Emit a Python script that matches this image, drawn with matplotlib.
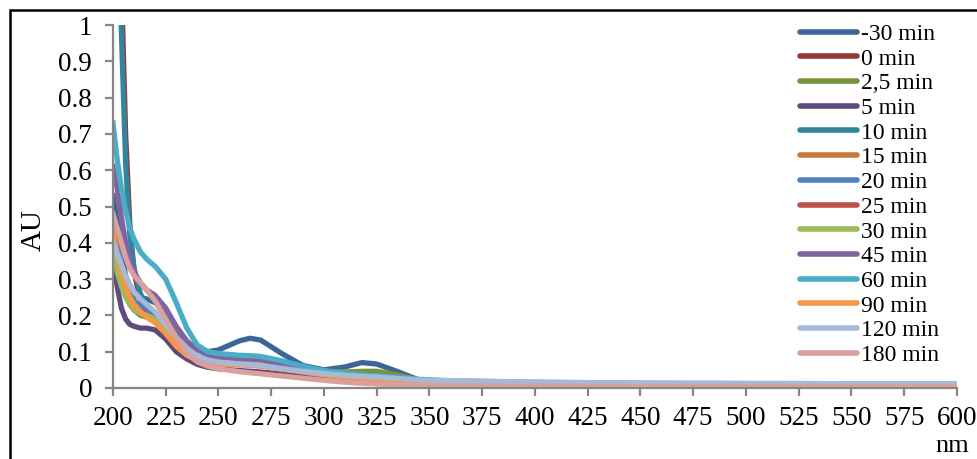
import matplotlib
matplotlib.use('Agg')
import matplotlib.pyplot as plt
from matplotlib.patches import Rectangle

plt.rcParams['font.family'] = ['Liberation Serif', 'DejaVu Serif']

# wavelengths (nm) where the curves were read
wl = [200, 202, 204, 206, 208, 210, 213, 216, 220, 225, 230, 235, 240, 245, 250,
      260, 265, 270, 280, 290, 300, 310, 318, 325, 335, 345, 360, 380, 400, 450,
      500, 550, 600]

labels = ['-30 min', '0 min', '2,5 min', '5 min', '10 min', '15 min', '20 min',
          '25 min', '30 min', '45 min', '60 min', '90 min', '120 min', '180 min']
colors = ['#3C6697', '#953735', '#77933C', '#604A7B', '#31859C', '#CB7A35', '#4F81BD',
          '#C0504D', '#9BBB59', '#8064A2', '#4BACC6', '#F79646', '#A7B9D9', '#D9A09D']

au_m30 = [.53, .46, .38, .31, .27, .255, .25, .245, .235, .21, .16, .125, .105, .1, .105,
          .13, .137, .132, .095, .062, .05, .058, .07, .066, .045, .022, .018, .015, .012, .01,
          .009, .008, .008]
au_0 = [2.6, 1.75, 1.12, .7, .45, .32, .24, .21, .19, .16, .125, .1, .085, .078, .074,
        .07, .069, .068, .058, .05, .042, .035, .032, .03, .025, .02, .017, .015, .013, .011,
        .01, .009, .009]
au_2_5 = [.37, .33, .29, .255, .23, .215, .2, .195, .185, .16, .125, .1, .085, .079, .075,
          .072, .07, .068, .06, .052, .045, .044, .046, .046, .036, .022, .017, .015, .013, .011,
          .01, .009, .009]
au_5 = [.36, .28, .22, .19, .175, .17, .165, .165, .16, .135, .1, .08, .065, .057, .053,
        .048, .046, .044, .038, .032, .026, .02, .017, .015, .012, .01, .008, .007, .006, .005,
        .005, .005, .005]
au_10 = [2.2, 1.5, .98, .62, .42, .33, .26, .225, .2, .17, .13, .1, .085, .078, .075,
         .072, .07, .068, .06, .052, .044, .038, .034, .032, .027, .022, .018, .016, .014, .012,
         .011, .01, .01]
au_15 = [.45, .39, .33, .28, .25, .23, .215, .205, .19, .16, .12, .095, .08, .074, .07,
         .067, .066, .065, .057, .048, .04, .034, .03, .028, .023, .019, .016, .014, .012, .01,
         .009, .009, .008]
au_20 = [.47, .4, .34, .29, .26, .24, .225, .215, .2, .17, .13, .1, .085, .078, .074,
         .07, .069, .068, .059, .05, .042, .036, .032, .03, .025, .02, .017, .015, .013, .011,
         .01, .01, .009]
au_25 = [.43, .37, .31, .27, .24, .225, .21, .2, .188, .16, .122, .097, .082, .075, .071,
         .068, .066, .065, .056, .048, .041, .035, .031, .029, .024, .02, .017, .015, .013, .011,
         .01, .009, .009]
au_30 = [.37, .32, .28, .25, .23, .215, .205, .2, .19, .165, .13, .1, .085, .078, .074,
         .071, .07, .069, .062, .053, .045, .038, .035, .033, .028, .021, .017, .015, .013, .011,
         .01, .009, .009]
au_45 = [.61, .55, .47, .4, .35, .32, .29, .27, .255, .22, .17, .13, .105, .092, .086,
         .081, .08, .078, .066, .055, .043, .036, .031, .029, .025, .021, .018, .016, .014, .012,
         .011, .01, .01]
au_60 = [.73, .63, .55, .49, .44, .41, .375, .355, .335, .3, .235, .165, .118, .1, .095,
         .09, .089, .087, .075, .06, .048, .041, .036, .033, .029, .024, .02, .018, .016, .013,
         .012, .011, .011]
au_90 = [.43, .37, .32, .28, .25, .23, .21, .195, .18, .15, .115, .09, .076, .07, .066,
         .063, .062, .06, .052, .044, .036, .03, .026, .024, .02, .016, .013, .011, .01, .008,
         .008, .007, .007]
au_120 = [.40, .37, .34, .31, .285, .265, .245, .23, .21, .175, .14, .11, .088, .077, .071,
          .066, .064, .062, .054, .046, .04, .035, .032, .03, .026, .022, .02, .018, .016, .014,
          .013, .012, .012]
au_180 = [.48, .44, .40, .36, .33, .31, .29, .27, .24, .19, .14, .095, .072, .06, .053,
          .045, .042, .039, .033, .027, .021, .016, .013, .011, .009, .007, .006, .005, .005, .004,
          .004, .004, .004]

series = [au_m30, au_0, au_2_5, au_5, au_10, au_15, au_20, au_25, au_30, au_45,
          au_60, au_90, au_120, au_180]

fig = plt.figure(figsize=(9.78, 4.59), dpi=100)
ax = fig.add_axes([0.1155, 0.1547, 0.863, 0.7908])

for y, lab, c in zip(series, labels, colors):
    ax.plot(wl, y, color=c, lw=3.8, label=lab, solid_joinstyle='round')

ax.set_xlim(200, 600)
ax.set_ylim(0, 1)
ax.set_xticks(range(200, 601, 25))
yt = [i / 10 for i in range(11)]
ax.set_yticks(yt)
ax.set_yticklabels(['0'] + ['%.1f' % v for v in yt[1:-1]] + ['1'])

gray = '#868686'
for s in ['top', 'right']:
    ax.spines[s].set_visible(False)
for s in ['left', 'bottom']:
    ax.spines[s].set_color(gray)
    ax.spines[s].set_linewidth(1.6)
ax.tick_params(axis='both', colors=gray, labelcolor='black', length=6, width=1.6,
               labelsize=19.5)
ax.tick_params(axis='y', pad=9)
ax.tick_params(axis='x', pad=7)

leg = ax.legend(loc='upper left', bbox_to_anchor=(0.806, 0.975),
                bbox_transform=fig.transFigure, frameon=False, fontsize=17,
                handlelength=2.4, handletextpad=0.16, labelspacing=0.135, borderpad=0)
for h in leg.get_lines():
    h.set_linewidth(4)
    h.set_solid_capstyle('round')

fig.text(34 / 978, 1 - 230 / 459, 'AU', rotation=90, ha='center', va='center', fontsize=21)
fig.text(952 / 978, 1 - 452 / 459, 'nm', ha='center', va='baseline', fontsize=19)

fig.add_artist(Rectangle((10 / 978, -0.2), 1.2, 1.2 - 10 / 459, transform=fig.transFigure,
                         fill=False, ec='black', lw=1.8))

fig.savefig('out.png', dpi=100)
